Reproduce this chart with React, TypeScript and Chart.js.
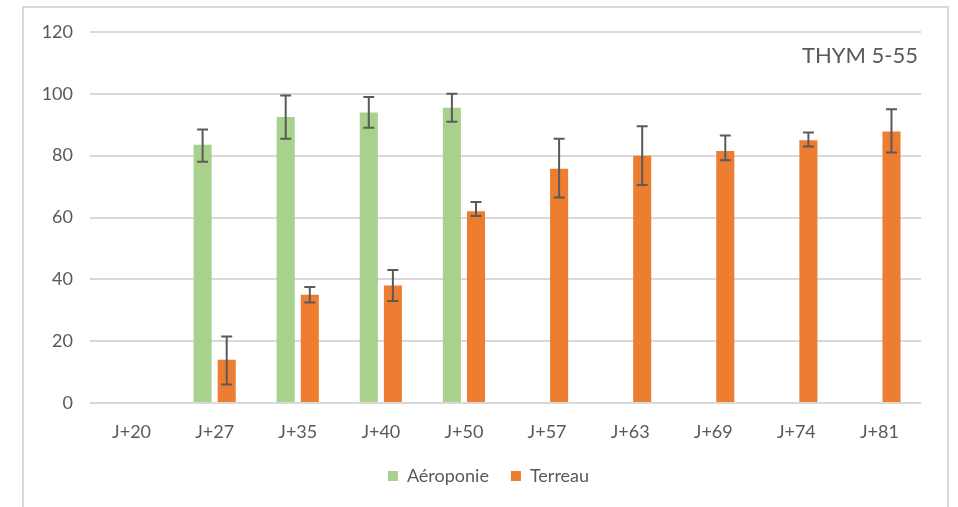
import React, { useEffect, useRef } from "react";
import { Chart, registerables } from "chart.js";

Chart.register(...registerables);

const categories = ["J+20", "J+27", "J+35", "J+40", "J+50", "J+57", "J+63", "J+69", "J+74", "J+81"];
const aeroponie = [null, 83.5, 92.5, 94, 95.5, null, null, null, null, null];
const aeroLow = [null, 78, 85.5, 89, 91, null, null, null, null, null];
const aeroHigh = [null, 88.5, 99.5, 99, 100, null, null, null, null, null];
const terreau = [null, 14, 35, 38, 62, 75.8, 80, 81.5, 85, 87.8];
const terreauLow = [null, 6, 32.5, 33, 60.5, 66.5, 70.5, 78.5, 83, 81];
const terreauHigh = [null, 21.5, 37.5, 43, 65, 85.5, 89.5, 86.5, 87.5, 95];
const yTicks = [0, 20, 40, 60, 80, 100, 120];
const chartTitle = "THYM 5-55";

const FONT = "Lato, 'Open Sans', sans-serif";
const TEXT = "#595959";

const errorBarPlugin = {
  id: "errorBars",
  afterDatasetsDraw(chart: any) {
    const ctx = chart.ctx;
    const y = chart.scales.y;
    const lows = [aeroLow, terreauLow];
    const highs = [aeroHigh, terreauHigh];
    ctx.save();
    ctx.strokeStyle = "#5a5a5a";
    ctx.lineWidth = 2;
    chart.data.datasets.forEach((_ds: any, di: number) => {
      const meta = chart.getDatasetMeta(di);
      meta.data.forEach((bar: any, i: number) => {
        const lo = lows[di][i];
        const hi = highs[di][i];
        if (lo == null || hi == null) return;
        const x = bar.x;
        const yl = y.getPixelForValue(lo);
        const yh = y.getPixelForValue(hi);
        const cap = 5.5;
        ctx.beginPath();
        ctx.moveTo(x, yl);
        ctx.lineTo(x, yh);
        ctx.moveTo(x - cap, yl);
        ctx.lineTo(x + cap, yl);
        ctx.moveTo(x - cap, yh);
        ctx.lineTo(x + cap, yh);
        ctx.stroke();
      });
    });
    ctx.restore();
  },
};

const titlePlugin = {
  id: "innerTitle",
  afterDraw(chart: any) {
    const ctx = chart.ctx;
    const area = chart.chartArea;
    ctx.save();
    ctx.font = `22px ${FONT}`;
    ctx.fillStyle = TEXT;
    ctx.textAlign = "right";
    ctx.textBaseline = "middle";
    ctx.fillText(chartTitle, area.right - 3, area.top + 24);
    ctx.restore();
  },
};

const legendShiftPlugin = {
  id: "legendShift",
  afterLayout(chart: any) {
    const lg = chart.legend;
    if (!lg) return;
    const shift = 28;
    lg.left += shift;
    lg.right += shift;
  },
};

export default function App() {
  const ref = useRef<HTMLCanvasElement | null>(null);

  useEffect(() => {
    if (!ref.current) return;
    const chart = new Chart(ref.current, {
      type: "bar",
      data: {
        labels: categories,
        datasets: [
          {
            label: "Aéroponie",
            data: aeroponie as any,
            backgroundColor: "#A9D18E",
            categoryPercentage: 0.58,
            barPercentage: 0.75,
          },
          {
            label: "Terreau",
            data: terreau as any,
            backgroundColor: "#ED7D31",
            categoryPercentage: 0.58,
            barPercentage: 0.75,
          },
        ],
      },
      options: {
        animation: false,
        responsive: false,
        maintainAspectRatio: false,
        layout: { padding: { top: 32, right: 37, left: 0, bottom: 12 } },
        plugins: {
          legend: {
            position: "bottom",
            labels: {
              font: { family: FONT, size: 18 },
              color: TEXT,
              boxWidth: 10,
              boxHeight: 10,
              padding: 22,
            },
          },
          tooltip: { enabled: false },
          title: { display: false },
        },
        scales: {
          x: {
            grid: { display: false },
            border: { display: false },
            ticks: { font: { family: FONT, size: 18 }, color: TEXT, padding: 10 },
            afterFit: (s: any) => {
              s.height = 42;
            },
          },
          y: {
            min: 0,
            max: 120,
            afterBuildTicks: (s: any) => {
              s.ticks = yTicks.map((v) => ({ value: v }));
            },
            grid: { color: "#d9d9d9", lineWidth: 2, drawTicks: false },
            border: { display: false },
            ticks: { font: { family: FONT, size: 18 }, color: TEXT, padding: 17 },
            afterFit: (s: any) => {
              s.width = 90;
            },
          },
        },
      },
      plugins: [errorBarPlugin, titlePlugin, legendShiftPlugin],
    });
    return () => chart.destroy();
  }, []);

  return (
    <div style={{ position: "fixed", left: 0, top: 0, width: 958, height: 507, background: "#fff", overflow: "hidden" }}>
      <canvas ref={ref} width={958} height={507} style={{ position: "absolute", left: 0, top: 0 }} />
      <div
        style={{
          position: "absolute",
          left: 22,
          top: 6,
          width: 923,
          height: 520,
          border: "2px solid #d9d9d9",
          pointerEvents: "none",
        }}
      />
    </div>
  );
}
